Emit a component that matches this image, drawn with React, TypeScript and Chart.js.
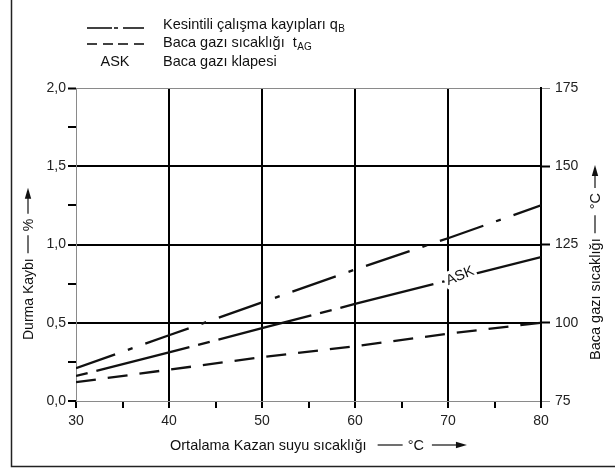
import React, { useEffect, useRef } from 'react';
import { Chart, registerables } from 'chart.js';

Chart.register(...registerables);

// ---- data ----
const xValues = [30, 40, 50, 60, 70, 80];
const intermittentLoss = [0.21, 0.42, 0.63, 0.84, 1.04, 1.25]; // Kesintili çalışma kayıpları qB (%)
const askLoss = [0.16, 0.31, 0.465, 0.62, 0.77, 0.92]; // ASK (%)
const flueGasTemp = [81, 85, 89, 92.5, 96.5, 100]; // Baca gazı sıcaklığı tAG (°C)

const xTickLabels = ['30', '40', '50', '60', '70', '80'];
const leftTickLabels = ['0,0', '0,5', '1,0', '1,5', '2,0'];
const rightTickLabels = ['75', '100', '125', '150', '175'];

const legendTexts = ['Kesintili çalışma kayıpları q', 'Baca gazı sıcaklığı  t', 'Baca gazı klapesi'];
const legendSubs = ['B', 'AG', ''];
const legendAsk = 'ASK';
const xTitle = 'Ortalama Kazan suyu sıcaklığı';
const yLeftTitle = 'Durma Kaybı';
const yLeftUnit = '%';
const yRightTitle = 'Baca gazı sıcaklığı';
const yRightUnit = '°C';
const xUnit = '°C';
const askLabel = 'ASK';
const askLabelX = 71.3;

const FONT = '"Liberation Sans", Arial, Helvetica, sans-serif';
const INK = '#111';
const GRAY = '#8a8a8a';

function arrowHead(ctx: CanvasRenderingContext2D, x: number, y: number) {
  ctx.beginPath();
  ctx.moveTo(x, y);
  ctx.lineTo(x - 11, y - 3.2);
  ctx.lineTo(x - 11, y + 3.2);
  ctx.closePath();
  ctx.fill();
}

function titleWithArrow(
  ctx: CanvasRenderingContext2D,
  size: number,
  text: string,
  unit: string,
  g1: number,
  l1: number,
  g2: number,
  g3: number,
  l2: number
) {
  ctx.font = `${size}px ${FONT}`;
  ctx.textBaseline = 'middle';
  ctx.textAlign = 'left';
  ctx.fillText(text, 0, 0);
  let x = ctx.measureText(text).width + g1;
  ctx.lineWidth = 1.2;
  ctx.beginPath();
  ctx.moveTo(x, -1);
  ctx.lineTo(x + l1, -1);
  ctx.stroke();
  x += l1 + g2;
  ctx.fillText(unit, x, 0);
  x += ctx.measureText(unit).width + g3;
  ctx.beginPath();
  ctx.moveTo(x, -1);
  ctx.lineTo(x + l2 - 4, -1);
  ctx.stroke();
  arrowHead(ctx, x + l2, -1);
}

const decor = {
  id: 'decor',
  afterDraw(chart: any) {
    const ctx: CanvasRenderingContext2D = chart.ctx;
    const xs = chart.scales.x;
    const ys = chart.scales.y;
    ctx.save();
    ctx.fillStyle = INK;
    ctx.strokeStyle = INK;

    // ASK label on the middle curve
    {
      let i = 0;
      while (i < xValues.length - 2 && xValues[i + 1] < askLabelX) i++;
      const t = (askLabelX - xValues[i]) / (xValues[i + 1] - xValues[i]);
      const v = askLoss[i] + t * (askLoss[i + 1] - askLoss[i]);
      const px = xs.getPixelForValue(askLabelX);
      const py = ys.getPixelForValue(v);
      const ang =
        Math.atan2(
          ys.getPixelForValue(askLoss[i + 1]) - ys.getPixelForValue(askLoss[i]),
          xs.getPixelForValue(xValues[i + 1]) - xs.getPixelForValue(xValues[i])
        ) - 0.14;
      ctx.save();
      ctx.translate(px, py - 1.5);
      ctx.rotate(ang);
      ctx.font = `14.5px ${FONT}`;
      const w = ctx.measureText(askLabel).width;
      ctx.fillStyle = '#fff';
      ctx.fillRect(-w / 2 - 2, -9, w + 4, 17);
      ctx.fillStyle = INK;
      ctx.textAlign = 'center';
      ctx.textBaseline = 'middle';
      ctx.fillText(askLabel, 0, 0);
      ctx.restore();
    }

    // outer frame
    ctx.lineWidth = 1.5;
    ctx.strokeStyle = '#222';
    ctx.beginPath();
    ctx.moveTo(11.5, -2);
    ctx.lineTo(11.5, 466.5);
    ctx.lineTo(620, 466.5);
    ctx.stroke();
    ctx.strokeStyle = INK;

    // legend
    ctx.lineWidth = 1.6;
    const seg = (a: number, b: number, y: number) => {
      ctx.beginPath();
      ctx.moveTo(a, y);
      ctx.lineTo(b, y);
      ctx.stroke();
    };
    seg(87, 112, 28);
    seg(114, 118, 28);
    seg(123, 144, 28);
    seg(87, 97, 44);
    seg(103, 113, 44);
    seg(118, 128, 44);
    seg(134, 144, 44);
    ctx.font = `14.5px ${FONT}`;
    ctx.textAlign = 'center';
    ctx.textBaseline = 'alphabetic';
    ctx.fillText(legendAsk, 115, 66);
    ctx.textAlign = 'left';
    const baselines = [29, 47, 66];
    legendTexts.forEach((t, k) => {
      ctx.font = `14.5px ${FONT}`;
      ctx.fillText(t, 163, baselines[k]);
      if (legendSubs[k]) {
        const w = ctx.measureText(t).width;
        ctx.font = `10px ${FONT}`;
        ctx.fillText(legendSubs[k], 163 + w + 0.5, baselines[k] + 3);
      }
    });

    // x-axis title
    ctx.save();
    ctx.translate(170, 446);
    titleWithArrow(ctx, 14.5, xTitle, xUnit, 11, 25, 5, 8, 35);
    ctx.restore();

    // left y-axis title
    ctx.save();
    ctx.translate(29, 340);
    ctx.rotate(-Math.PI / 2);
    titleWithArrow(ctx, 14, yLeftTitle, yLeftUnit, 5, 18, 4, 5, 26);
    ctx.restore();

    // right y-axis title
    ctx.save();
    ctx.translate(596, 360);
    ctx.rotate(-Math.PI / 2);
    titleWithArrow(ctx, 14.5, yRightTitle, yRightUnit, 5, 18, 6, 5, 23);
    ctx.restore();

    ctx.restore();
  },
};

const isMult = (v: number, m: number) => Math.abs(v / m - Math.round(v / m)) < 1e-6;

export default function App() {
  const ref = useRef<HTMLCanvasElement | null>(null);

  useEffect(() => {
    if (!ref.current) return;
    const tickFont = { family: FONT, size: 14 };
    const chart = new Chart(ref.current, {
      type: 'line',
      data: {
        datasets: [
          {
            label: 'Kesintili çalışma kayıpları qB',
            data: xValues.map((x, i) => ({ x, y: intermittentLoss[i] })),
            yAxisID: 'y',
            borderColor: INK,
            borderWidth: 2.3,
            borderDash: [46, 13.5, 5, 13.5],
            borderDashOffset: 4.5,
            pointRadius: 0,
            tension: 0,
          },
          {
            label: 'ASK',
            data: xValues.map((x, i) => ({ x, y: askLoss[i] })),
            yAxisID: 'y',
            borderColor: INK,
            borderWidth: 2.3,
            borderDash: [12, 9, 96, 9],
            pointRadius: 0,
            tension: 0,
          },
          {
            label: 'Baca gazı sıcaklığı tAG',
            data: xValues.map((x, i) => ({ x, y: flueGasTemp[i] })),
            yAxisID: 'y1',
            borderColor: INK,
            borderWidth: 2.3,
            borderDash: [20, 12],
            pointRadius: 0,
            tension: 0,
          },
        ],
      },
      options: {
        responsive: false,
        animation: false,
        layout: { padding: { top: 88, left: 0, right: 0, bottom: 0 } },
        plugins: { legend: { display: false }, tooltip: { enabled: false } },
        scales: {
          x: {
            type: 'linear',
            min: 30,
            max: 80,
            afterFit: (s: any) => {
              s.height = 67;
            },
            ticks: {
              stepSize: 5,
              autoSkip: false,
              maxRotation: 0,
              padding: 5,
              color: '#222',
              font: tickFont,
              callback: (v: any) => (isMult(v - 30, 10) ? xTickLabels[Math.round((v - 30) / 10)] : ''),
            },
            grid: {
              color: (c: any) => {
                const v = c.tick ? c.tick.value : NaN;
                return isMult(v, 10) && v > 30 && v < 80 ? '#000' : 'rgba(0,0,0,0)';
              },
              lineWidth: 2,
              tickColor: '#000',
              tickWidth: 2,
              tickLength: 7,
            },
            border: { display: true, color: GRAY, width: 1 },
          },
          y: {
            type: 'linear',
            position: 'left',
            min: 0,
            max: 2,
            afterFit: (s: any) => {
              s.width = 76;
            },
            ticks: {
              stepSize: 0.25,
              autoSkip: false,
              padding: 2,
              color: '#222',
              font: tickFont,
              callback: (v: any) => (isMult(v, 0.5) ? leftTickLabels[Math.round(v * 2)] : ''),
            },
            grid: {
              color: (c: any) => {
                const v = c.tick ? c.tick.value : NaN;
                if (v > 0.01 && v < 1.99 && isMult(v, 0.5)) return '#000';
                if (Math.abs(v - 2) < 1e-6) return GRAY;
                return 'rgba(0,0,0,0)';
              },
              lineWidth: (c: any) => {
                const v = c.tick ? c.tick.value : NaN;
                return Math.abs(v - 2) < 1e-6 ? 1 : 2;
              },
              tickColor: '#000',
              tickWidth: 2,
              tickLength: 8,
            },
            border: { display: true, color: GRAY, width: 1 },
          },
          y1: {
            type: 'linear',
            position: 'right',
            min: 75,
            max: 175,
            afterFit: (s: any) => {
              s.width = 74;
            },
            ticks: {
              stepSize: 25,
              autoSkip: false,
              padding: 5,
              color: '#222',
              font: tickFont,
              callback: (v: any) => rightTickLabels[Math.round((v - 75) / 25)],
            },
            grid: {
              drawOnChartArea: false,
              tickColor: (c: any) => {
                const v = c.tick ? c.tick.value : NaN;
                return v === 75 || v === 175 ? GRAY : '#000';
              },
              tickWidth: (c: any) => {
                const v = c.tick ? c.tick.value : NaN;
                return v === 75 || v === 175 ? 1 : 2;
              },
              tickLength: 9,
            },
            border: { display: true, color: '#000', width: 2 },
          },
        },
      },
      plugins: [decor],
    } as any);
    return () => chart.destroy();
  }, []);

  return (
    <div style={{ position: 'fixed', left: 0, top: 0, width: 615, height: 468, background: '#fff' }}>
      <canvas ref={ref} width={615} height={468} style={{ display: 'block' }} />
    </div>
  );
}
